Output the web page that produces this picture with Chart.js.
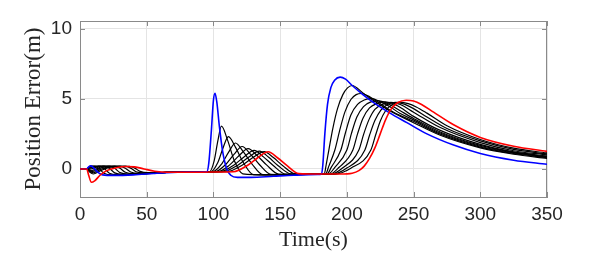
<!DOCTYPE html>
<html>
<head>
<meta charset="utf-8">
<script src="https://cdn.jsdelivr.net/npm/chart.js@4.4.1/dist/chart.umd.min.js"></script>
<style>
  html, body { margin: 0; padding: 0; background: #ffffff; }
  canvas { display: block; }
</style>
</head>
<body>
<canvas id="c" width="598" height="266"></canvas>
<script>
// ---- data: [time (s), position error (m)] ----
const xTicks = [0, 50, 100, 150, 200, 250, 300, 350];
const yTicks = [0, 5, 10];

const blue = [
  [0,0],[5,0],[6.5,0.15],[8,0.22],[10,0.1],[13,-0.2],[17,-0.42],[25,-0.46],[40,-0.42],[55,-0.32],[65,-0.26],[80,-0.22],
  [95,-0.2],[96.5,0.4],[98.5,2.8],[100,4.9],[101.2,5.4],[102.5,4.8],[104.5,3.0],[107,1.2],[110,0],[113,-0.45],[118,-0.6],[128,-0.6],[145,-0.52],[160,-0.45],[178,-0.4],
  [181,-0.38],[182,0.3],[183.5,2.5],[185.5,4.6],[188,5.8],[191,6.35],[195,6.55],[199,6.4],[204,5.95],[212,5.3],[222,4.6],[232,4.0],[245,3.3],[260,2.5],[280,1.7],[300,1.1],[325,0.62],[350,0.33]
];
const k1 = [
  [0,0],[5,0],[8,0.2],[11,0.2],[14,0.05],[18,-0.3],[24,-0.42],[40,-0.38],[65,-0.25],[80,-0.22],
  [97,-0.2],[100.6,0.6],[103.3,2.0],[106,3.05],[110.8,2.0],[115.6,0.6],[122,-0.35],[140,-0.42],[170,-0.38],
  [183,-0.37],[184.5,0.3],[186.5,1.35],[189.5,2.9],[193,4.3],[197,5.3],[200.5,5.78],[204,5.95],[212,5.42],[222,4.75],[232,4.15],[250,3.3],[270,2.4],[300,1.5],[325,1.05],[350,0.75]
];
const k2 = [
  [0,0],[5,0],[8,0.18],[14,0.2],[18,0.05],[22,-0.3],[28,-0.4],[45,-0.36],[65,-0.25],[80,-0.22],
  [98,-0.2],[103.3,0.46],[107.2,1.5],[111.2,2.3],[116.8,1.5],[122.4,0.46],[130,-0.4],[145,-0.42],[170,-0.38],
  [184,-0.37],[186.5,0.2],[191,1.35],[194.5,2.7],[198.5,4.05],[203,4.95],[207,5.3],[211,5.38],[218,5.1],[226,4.6],[235,4.05],[250,3.4],[270,2.48],[300,1.56],[325,1.1],[350,0.8]
];
const k3 = [
  [0,0],[5,0],[8,0.1],[12,0.18],[18,0.2],[22,0.05],[26,-0.28],[32,-0.38],[48,-0.34],[65,-0.25],[80,-0.22],
  [99.5,-0.2],[106.3,0.37],[111.4,1.2],[116.5,1.85],[122.6,1.2],[128.8,0.37],[137,-0.4],[150,-0.41],[170,-0.38],
  [185,-0.37],[188.5,0.15],[195.5,1.35],[199,2.6],[203,3.85],[208,4.6],[213,4.92],[218.5,5.02],[225,4.8],[232,4.45],[240,3.95],[250,3.5],[270,2.56],[300,1.62],[325,1.14],[350,0.84]
];
const k4 = [
  [0,0],[5,0],[8,0],[10,0.05],[15,0.2],[22,0.2],[26,0.05],[30,-0.26],[36,-0.36],[50,-0.33],[65,-0.25],[80,-0.22],
  [101,-0.2],[109.2,0.32],[115.4,1.04],[121.5,1.6],[127.9,1.04],[134.4,0.32],[143,-0.38],[155,-0.4],[170,-0.38],
  [186,-0.37],[191,0.12],[200,1.35],[203.5,2.55],[207.5,3.7],[212.5,4.45],[218,4.78],[224,4.85],[231,4.65],[240,4.15],[250,3.6],[270,2.64],[300,1.68],[325,1.18],[350,0.88]
];
const k5 = [
  [0,0],[5,0],[7,-0.06],[9,-0.1],[12,0],[17,0.18],[26,0.2],[30,0.05],[34,-0.24],[40,-0.34],[52,-0.31],[65,-0.25],[80,-0.22],
  [103,-0.2],[112.2,0.29],[119.1,0.94],[126,1.45],[132.9,0.94],[139.8,0.29],[149,-0.37],[160,-0.39],[170,-0.38],
  [187,-0.38],[194,0.1],[204.5,1.35],[208,2.5],[212,3.6],[217,4.35],[223,4.68],[229,4.78],[236,4.6],[243,4.2],[250,3.75],[270,2.75],[300,1.75],[325,1.22],[350,0.92]
];
const k6 = [
  [0,0],[5,0],[7,-0.1],[9.5,-0.18],[13,-0.05],[19,0.17],[30,0.2],[34,0.05],[38,-0.22],[44,-0.31],[54,-0.29],[65,-0.25],[80,-0.22],
  [105,-0.2],[115.2,0.27],[122.9,0.86],[130.5,1.33],[137.5,0.86],[144.6,0.27],[154,-0.36],[170,-0.38],
  [188,-0.38],[197,0.08],[209,1.35],[212.5,2.45],[216.5,3.5],[221,4.25],[227,4.62],[233,4.75],[240,4.6],[250,4.05],[270,2.95],[300,1.88],[325,1.3],[350,1.0]
];
const k7 = [
  [0,0],[5,0],[7,-0.15],[10,-0.27],[14,-0.1],[21,0.15],[34,0.2],[38,0.06],[42,-0.2],[48,-0.28],[56,-0.28],[65,-0.25],[80,-0.22],
  [107,-0.2],[118,0.25],[126.3,0.83],[134.5,1.27],[141.4,0.83],[148.3,0.25],[158,-0.35],[170,-0.37],
  [189,-0.38],[200,0.06],[213.5,1.35],[217,2.4],[221,3.45],[225.5,4.2],[230.5,4.6],[236.5,4.75],[243,4.62],[250,4.3],[260,3.7],[275,2.88],[300,2.0],[325,1.4],[350,1.07]
];
const k8 = [
  [0,0],[5,0],[7,-0.2],[10,-0.36],[15,-0.15],[23,0.13],[37,0.19],[41,0.06],[45,-0.17],[51,-0.26],[65,-0.25],[80,-0.22],
  [110,-0.2],[121.2,0.25],[129.6,0.81],[138,1.24],[144.9,0.81],[151.8,0.25],[161,-0.34],[172,-0.37],
  [190,-0.38],[203,0.05],[218,1.35],[221.5,2.4],[225,3.4],[229,4.15],[234,4.6],[240,4.77],[246,4.66],[252,4.42],[260,3.98],[275,3.08],[300,2.1],[325,1.48],[350,1.14]
];
const red = [
  [0,0],[5,0],[6.5,-0.45],[8.5,-0.95],[11,-0.85],[15,-0.45],[20,-0.12],[27,0.08],[35,0.17],[41,0.15],[48,0],[56,-0.16],[65,-0.24],[80,-0.24],[100,-0.22],
  [115,-0.2],[125.4,0.25],[133.2,0.8],[141,1.23],[148,0.8],[155,0.25],[164,-0.33],[178,-0.36],
  [195,-0.36],[204,-0.3],[209,-0.12],[213,0.2],[217,0.75],[221,1.5],[225,2.5],[229,3.5],[233,4.25],[238,4.72],[244.5,4.9],[250,4.85],[256,4.6],[265,4.05],[280,3.15],[300,2.25],[325,1.62],[350,1.25]
];
const blackSeries = [k1, k2, k3, k4, k5, k6, k7, k8];

// ---- build chart ----
const toPts = arr => arr.map(p => ({x: p[0], y: p[1]}));
const mk = (arr, color, width) => ({
  data: toPts(arr), borderColor: color, borderWidth: width,
  pointRadius: 0, fill: false, cubicInterpolationMode: 'monotone'
});
const datasets = [mk(red, '#ff0000', 1.6), mk(blue, '#0000ff', 1.6)]
  .concat(blackSeries.map(s => mk(s, '#000000', 1.2)));

const frame = {
  id: 'frame',
  beforeDatasetsDraw(chart) {
    const {ctx, chartArea: a, scales: {x, y}} = chart;
    ctx.save();
    ctx.strokeStyle = '#8a8a8a';
    ctx.lineWidth = 1;
    ctx.beginPath();
    ctx.moveTo(a.left, a.top + 0.5); ctx.lineTo(a.right, a.top + 0.5);
    ctx.moveTo(a.right - 0.5, a.top); ctx.lineTo(a.right - 0.5, a.bottom);
    const L = 5;
    x.ticks.forEach(t => {
      const px = Math.round(x.getPixelForValue(t.value)) + 0.5;
      ctx.moveTo(px, a.bottom); ctx.lineTo(px, a.bottom - L);
      ctx.moveTo(px, a.top); ctx.lineTo(px, a.top + L);
    });
    y.ticks.forEach(t => {
      const py = Math.round(y.getPixelForValue(t.value)) + 0.5;
      ctx.moveTo(a.left, py); ctx.lineTo(a.left + L, py);
      ctx.moveTo(a.right, py); ctx.lineTo(a.right - L, py);
    });
    ctx.stroke();
    ctx.restore();
  }
};

new Chart(document.getElementById('c'), {
  type: 'line',
  data: { datasets },
  options: {
    responsive: false,
    animation: false,
    events: [],
    layout: { padding: { left: 0, right: 51, top: 21, bottom: 0 } },
    plugins: { legend: { display: false }, tooltip: { enabled: false } },
    scales: {
      x: {
        type: 'linear', min: 0, max: 350,
        afterBuildTicks: s => { s.ticks = xTicks.map(v => ({ value: v })); },
        afterFit: s => { s.height = 69; },
        ticks: { font: { family: 'Liberation Sans', size: 19 }, color: '#262626', padding: 6, maxRotation: 0 },
        grid: { color: '#e4e4e4', drawTicks: false },
        border: { color: '#8a8a8a' },
        title: { display: true, text: 'Time(s)', font: { family: 'Liberation Serif', size: 22 }, color: '#262626', padding: { top: 0, bottom: 13 } }
      },
      y: {
        type: 'linear', min: -2, max: 10.55,
        afterBuildTicks: s => { s.ticks = yTicks.map(v => ({ value: v })); },
        afterFit: s => { s.width = 80; },
        ticks: { font: { family: 'Liberation Sans', size: 19 }, color: '#262626', padding: 8 },
        grid: { color: '#e4e4e4', drawTicks: false },
        border: { color: '#8a8a8a' },
        title: { display: true, text: 'Position Error(m)', font: { family: 'Liberation Serif', size: 23 }, color: '#262626', padding: { top: 20, bottom: 0 } }
      }
    }
  },
  plugins: [frame]
});
</script>
</body>
</html>
